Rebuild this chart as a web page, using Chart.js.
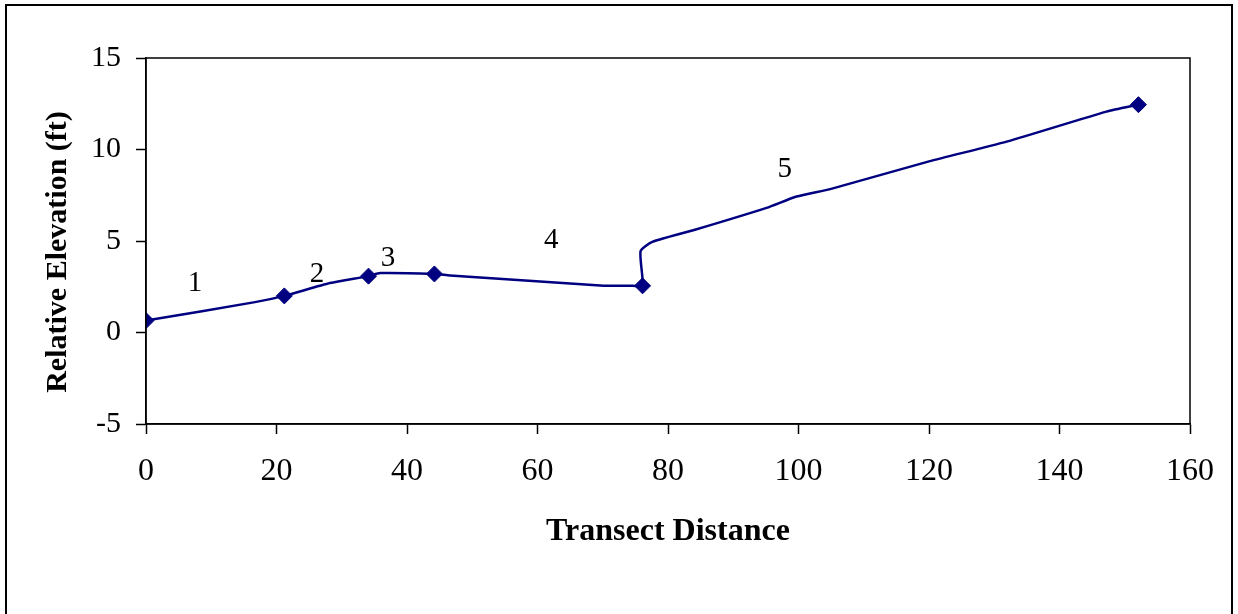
<!DOCTYPE html>
<html>
<head>
<meta charset="utf-8">
<script src="https://cdn.jsdelivr.net/npm/chart.js@4.4.0/dist/chart.umd.min.js"></script>
<style>
  body { margin: 0; background: #fff; }
  #grafico { display: block; }
</style>
</head>
<body>
<canvas id="grafico" width="1238" height="614"></canvas>
<script>
// transect profile (smoothed line through the surveyed shots)
const distancia = [0, 16.7, 21.2, 28.2, 34.1, 35.9, 44.2, 46.6, 69.6, 74.6, 76.1, 75.8, 77.6, 84, 95.1, 99.7, 105, 120, 131.9, 147.2, 152.1]
const elevacao = [0.65, 1.66, 2.0, 2.7, 3.08, 3.25, 3.2, 3.12, 2.57, 2.55, 2.55, 4.45, 4.95, 5.6, 6.81, 7.43, 7.85, 9.35, 10.43, 12.07, 12.45]

// break points between the numbered reaches
const pontosX = [0, 21.2, 34.1, 44.2, 76.1, 152.1]
const pontosY = [0.65, 2.0, 3.08, 3.2, 2.55, 12.45]

// reach numbers
const trechos = ['1', '2', '3', '4', '5']
const trechosX = [7.5, 26.2, 37.1, 62.1, 97.9]
const trechosY = [2.66, 3.15, 4.07, 5.06, 8.94]

const ticksX = [0, 20, 40, 60, 80, 100, 120, 140, 160]
const ticksY = [-5, 0, 5, 10, 15]

const tituloY = 'Relative Elevation (ft)'

const azul = '#000080'
const fonte = '"Liberation Serif", "Times New Roman", serif'

const ctx = document.getElementById('grafico')

const moldura = {
    id: 'moldura',
    beforeDraw(chart) {
        const c = chart.ctx
        c.save()
        c.fillStyle = '#fff'
        c.fillRect(0, 0, chart.width, chart.height)
        c.restore()
    },
    afterDraw(chart) {
        const c = chart.ctx
        const a = chart.chartArea
        const { x, y } = chart.scales
        c.save()
        c.strokeStyle = '#000'
        c.lineWidth = 1.5
        c.strokeRect(a.left, a.top, a.right - a.left, a.bottom - a.top)
        c.lineWidth = 2
        c.strokeRect(6, 5, chart.width - 12, chart.height + 20)
        c.fillStyle = '#000'
        c.font = '29px ' + fonte
        c.textAlign = 'center'
        c.textBaseline = 'middle'
        trechos.forEach((t, i) => {
            c.fillText(t, x.getPixelForValue(trechosX[i]), y.getPixelForValue(trechosY[i]))
        })
        // titulo do eixo y
        c.translate(66, 252)
        c.rotate(-Math.PI / 2)
        c.font = 'bold 30px ' + fonte
        c.textBaseline = 'alphabetic'
        c.fillText(tituloY, 0, 0)
        c.restore()
    }
}

new Chart(ctx, {
    type: 'scatter',
    data: {
        datasets: [{
            data: distancia.map((d, i) => ({ x: d, y: elevacao[i] })),
            showLine: true,
            borderColor: azul,
            borderWidth: 2.5,
            tension: 0.2,
            pointRadius: 0,
            fill: false
        },
        {
            data: pontosX.map((d, i) => ({ x: d, y: pontosY[i] })),
            showLine: false,
            pointStyle: 'rectRot',
            pointRadius: 8,
            backgroundColor: azul,
            borderColor: azul,
            borderWidth: 1
        }]
    },
    plugins: [moldura],
    options: {
        responsive: false,
        animation: false,
        events: [],
        layout: { padding: { left: 0, top: 58, right: 48, bottom: 0 } },
        plugins: { legend: { display: false }, tooltip: { enabled: false } },
        scales: {
            x: {
                type: 'linear',
                min: 0,
                max: 160,
                afterBuildTicks: s => { s.ticks = ticksX.map(v => ({ value: v })) },
                afterFit: s => { s.height = 190 },
                ticks: { color: '#000', font: { family: fonte, size: 32 }, padding: 18, maxRotation: 0 },
                grid: { drawOnChartArea: false, tickLength: 10, color: '#000', tickWidth: 1.5 },
                border: { color: '#000', width: 1.5 },
                title: {
                    display: true,
                    text: 'Transect Distance',
                    color: '#000',
                    font: { family: fonte, size: 32, weight: 'bold' },
                    padding: { top: 0, bottom: 63 }
                }
            },
            y: {
                type: 'linear',
                min: -5,
                max: 15,
                afterBuildTicks: s => { s.ticks = ticksY.map(v => ({ value: v })) },
                afterFit: s => { s.width = 146 },
                ticks: { color: '#000', font: { family: fonte, size: 30 }, padding: 15 },
                grid: { drawOnChartArea: false, tickLength: 10, color: '#000', tickWidth: 1.5 },
                border: { color: '#000', width: 1.5 },
                title: { display: false }
            }
        }
    }
})
</script>
</body>
</html>
